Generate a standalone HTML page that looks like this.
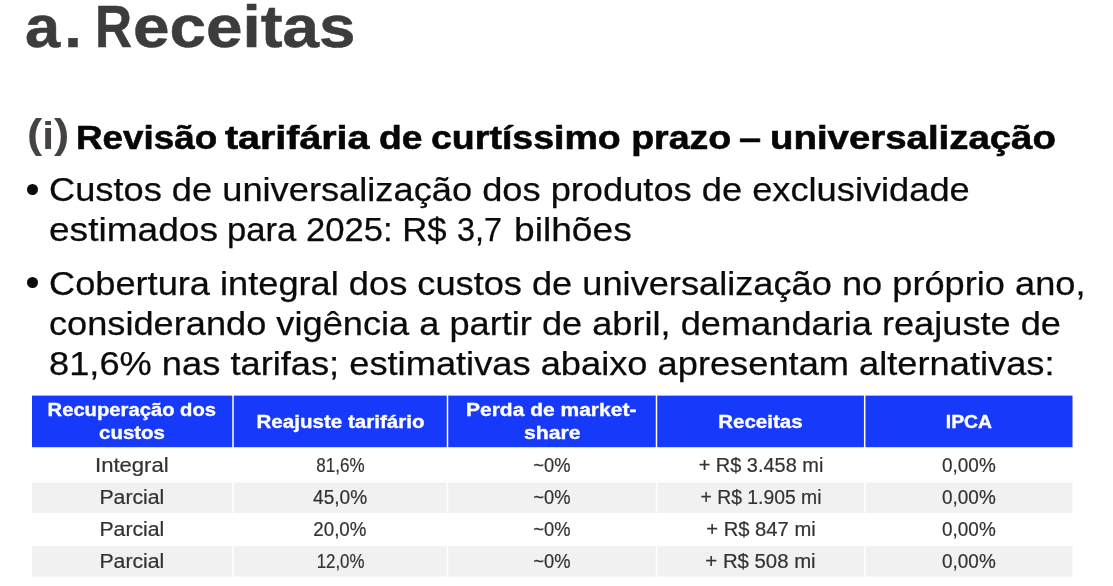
<!DOCTYPE html>
<html lang="pt-BR">
<head>
<meta charset="utf-8">
<title>a. Receitas</title>
<style>
html,body{margin:0;padding:0;background:#fff;}
body{width:1113px;height:586px;position:relative;overflow:hidden;font-family:"Liberation Sans",sans-serif;color:#0a0a0a;}
.ln{position:absolute;white-space:nowrap;margin:0;padding:0;transform-origin:0 0;display:block;}
h1{margin:0;padding:0;}
.tt{top:-7.04px;font-size:59px;line-height:68px;font-weight:bold;color:#3c3c3c;-webkit-text-stroke:0.5px #3c3c3c;}
#t1{left:25.0px;transform:scaleX(1.071);}
#t2{left:95.4px;transform:scaleX(0.87);}
#t3{left:133.0px;transform:scaleX(1.112);}
h2{margin:0;padding:0;font-weight:bold;}
#pre{left:26.9px;top:113.09px;font-size:39px;line-height:44px;color:#464241;transform:scaleX(1.117);}
#pre .par{font-size:41px;position:relative;top:-1.4px;}
#pre .i{font-size:38px;}
.hb{top:116.82px;font-size:34px;line-height:40px;color:#060606;-webkit-text-stroke:0.6px #060606;}
#ha{left:76.4px;transform:scaleX(1.084);}
#hb{left:224.7px;transform:scaleX(1.158);}
#hc{left:378.8px;transform:scaleX(1.097);}
#hd{left:430.8px;transform:scaleX(1.1035);}
#he{left:739.4px;transform:scaleX(1.17);}
#hf{left:769.6px;transform:scaleX(1.129);}
.body{color:#0b0b0b;-webkit-text-stroke:0.25px #0b0b0b;}
.bul{position:absolute;width:11px;height:11px;border-radius:50%;background:#0b0b0b;}
svg text{font-family:"Liberation Sans",sans-serif;}
svg .th{font-size:18px;font-weight:bold;fill:#fff;stroke:#fff;stroke-width:0.35px;}
svg .td{font-size:19.5px;fill:#333;stroke:#333;stroke-width:0.2px;}
</style>
</head>
<body>
<h1><span class="ln tt" id="t1"><span style="letter-spacing:3.8px">a</span>.</span> <span class="ln tt" id="t2">R</span><span class="ln tt" id="t3">eceitas</span></h1>
<h2><span class="ln" id="pre"><span class="par">(</span><span class="i">i</span><span class="par">)</span></span> <span class="ln hb" id="ha">Revisão</span> <span class="ln hb" id="hb">tarifária</span> <span class="ln hb" id="hc">de</span> <span class="ln hb" id="hd">curtíssimo prazo</span> <span class="ln hb" id="he">–</span> <span class="ln hb" id="hf">universalização</span></h2>
<span class="bul" style="left:27.3px;top:183.8px"></span>
<span class="bul" style="left:27.3px;top:277px"></span>
<div class="ln body" id="l1" style="left:48.90px;top:169.64px;font-size:32.5px;line-height:40px;transform:scaleX(1.1152)">Custos de universalização dos produtos de exclusividade</div>
<div class="ln body" id="l2" style="left:48.90px;top:209.54px;font-size:32.5px;line-height:40px;transform:scaleX(1.1410)">estimados</div>
<div class="ln body" id="l2b" style="left:227.40px;top:209.54px;font-size:32.5px;line-height:40px;transform:scaleX(1.0660)">para 2025: R$</div>
<div class="ln body" id="l2c" style="left:457.10px;top:209.54px;font-size:32.5px;line-height:40px;transform:scaleX(0.9950)">3,7</div>
<div class="ln body" id="l2d" style="left:513.70px;top:209.54px;font-size:32.5px;line-height:40px;transform:scaleX(1.1430)">bilhões</div>
<div class="ln body" id="l3" style="left:48.90px;top:264.04px;font-size:32.5px;line-height:40px;transform:scaleX(1.1140)">Cobertura integral dos custos de universalização no próprio ano,</div>
<div class="ln body" id="l4" style="left:48.90px;top:303.94px;font-size:32.5px;line-height:40px;transform:scaleX(1.1136)">considerando vigência a partir de abril, demandaria reajuste de</div>
<div class="ln body" id="l5" style="left:48.90px;top:343.54px;font-size:32.5px;line-height:40px;transform:scaleX(1.1155)">81,6% nas tarifas; estimativas abaixo apresentam alternativas:</div>
<svg id="tbl" width="1113" height="586" viewBox="0 0 1113 586" style="position:absolute;left:0;top:0">
<rect x="32.00" y="395.6" width="200.25" height="51.60" fill="#1739fa"/>
<rect x="32.00" y="482.5" width="200.25" height="30.40" fill="#f1f1f1"/>
<rect x="32.00" y="546.0" width="200.25" height="30.60" fill="#f1f1f1"/>
<rect x="233.75" y="395.6" width="213.00" height="51.60" fill="#1739fa"/>
<rect x="233.75" y="482.5" width="213.00" height="30.40" fill="#f1f1f1"/>
<rect x="233.75" y="546.0" width="213.00" height="30.60" fill="#f1f1f1"/>
<rect x="448.25" y="395.6" width="207.50" height="51.60" fill="#1739fa"/>
<rect x="448.25" y="482.5" width="207.50" height="30.40" fill="#f1f1f1"/>
<rect x="448.25" y="546.0" width="207.50" height="30.60" fill="#f1f1f1"/>
<rect x="657.25" y="395.6" width="206.70" height="51.60" fill="#1739fa"/>
<rect x="657.25" y="482.5" width="206.70" height="30.40" fill="#f1f1f1"/>
<rect x="657.25" y="546.0" width="206.70" height="30.60" fill="#f1f1f1"/>
<rect x="865.45" y="395.6" width="207.05" height="51.60" fill="#1739fa"/>
<rect x="865.45" y="482.5" width="207.05" height="30.40" fill="#f1f1f1"/>
<rect x="865.45" y="546.0" width="207.05" height="30.60" fill="#f1f1f1"/>
<text class="th" x="131.8" y="416.3" text-anchor="middle" textLength="168.5" lengthAdjust="spacingAndGlyphs">Recuperação dos</text>
<text class="th" x="132.0" y="439.3" text-anchor="middle" textLength="66.0" lengthAdjust="spacingAndGlyphs">custos</text>
<text class="th" x="340.5" y="427.5" text-anchor="middle" textLength="168.2" lengthAdjust="spacingAndGlyphs">Reajuste tarifário</text>
<text class="th" x="551.2" y="416.3" text-anchor="middle" textLength="170.4" lengthAdjust="spacingAndGlyphs">Perda de market-</text>
<text class="th" x="552.3" y="439.3" text-anchor="middle" textLength="56.6" lengthAdjust="spacingAndGlyphs">share</text>
<text class="th" x="760.4" y="427.5" text-anchor="middle" textLength="84.3" lengthAdjust="spacingAndGlyphs">Receitas</text>
<text class="th" x="968.9" y="427.5" text-anchor="middle" textLength="46.2" lengthAdjust="spacingAndGlyphs">IPCA</text>
<text class="td" x="131.8" y="471.9" text-anchor="middle" textLength="73.6" lengthAdjust="spacingAndGlyphs">Integral</text>
<text class="td" x="340.4" y="471.9" text-anchor="middle" textLength="48.3" lengthAdjust="spacingAndGlyphs">81,6%</text>
<text class="td" x="551.9" y="471.9" text-anchor="middle" textLength="37.2" lengthAdjust="spacingAndGlyphs">~0%</text>
<text class="td" x="761.0" y="471.9" text-anchor="middle" textLength="124.7" lengthAdjust="spacingAndGlyphs">+ R$ 3.458 mi</text>
<text class="td" x="968.9" y="471.9" text-anchor="middle" textLength="53.7" lengthAdjust="spacingAndGlyphs">0,00%</text>
<text class="td" x="131.9" y="503.9" text-anchor="middle" textLength="64.9" lengthAdjust="spacingAndGlyphs">Parcial</text>
<text class="td" x="340.1" y="503.9" text-anchor="middle" textLength="54.1" lengthAdjust="spacingAndGlyphs">45,0%</text>
<text class="td" x="551.9" y="503.9" text-anchor="middle" textLength="37.2" lengthAdjust="spacingAndGlyphs">~0%</text>
<text class="td" x="761.0" y="503.9" text-anchor="middle" textLength="120.9" lengthAdjust="spacingAndGlyphs">+ R$ 1.905 mi</text>
<text class="td" x="968.9" y="503.9" text-anchor="middle" textLength="53.7" lengthAdjust="spacingAndGlyphs">0,00%</text>
<text class="td" x="131.9" y="535.9" text-anchor="middle" textLength="64.9" lengthAdjust="spacingAndGlyphs">Parcial</text>
<text class="td" x="339.9" y="535.9" text-anchor="middle" textLength="53.1" lengthAdjust="spacingAndGlyphs">20,0%</text>
<text class="td" x="551.9" y="535.9" text-anchor="middle" textLength="37.2" lengthAdjust="spacingAndGlyphs">~0%</text>
<text class="td" x="761.0" y="535.9" text-anchor="middle" textLength="109.5" lengthAdjust="spacingAndGlyphs">+ R$ 847 mi</text>
<text class="td" x="968.9" y="535.9" text-anchor="middle" textLength="53.7" lengthAdjust="spacingAndGlyphs">0,00%</text>
<text class="td" x="131.9" y="567.9" text-anchor="middle" textLength="64.9" lengthAdjust="spacingAndGlyphs">Parcial</text>
<text class="td" x="340.6" y="567.9" text-anchor="middle" textLength="47.9" lengthAdjust="spacingAndGlyphs">12,0%</text>
<text class="td" x="551.9" y="567.9" text-anchor="middle" textLength="37.2" lengthAdjust="spacingAndGlyphs">~0%</text>
<text class="td" x="760.5" y="567.9" text-anchor="middle" textLength="110.3" lengthAdjust="spacingAndGlyphs">+ R$ 508 mi</text>
<text class="td" x="968.9" y="567.9" text-anchor="middle" textLength="53.7" lengthAdjust="spacingAndGlyphs">0,00%</text>
</svg>
</body>
</html>
